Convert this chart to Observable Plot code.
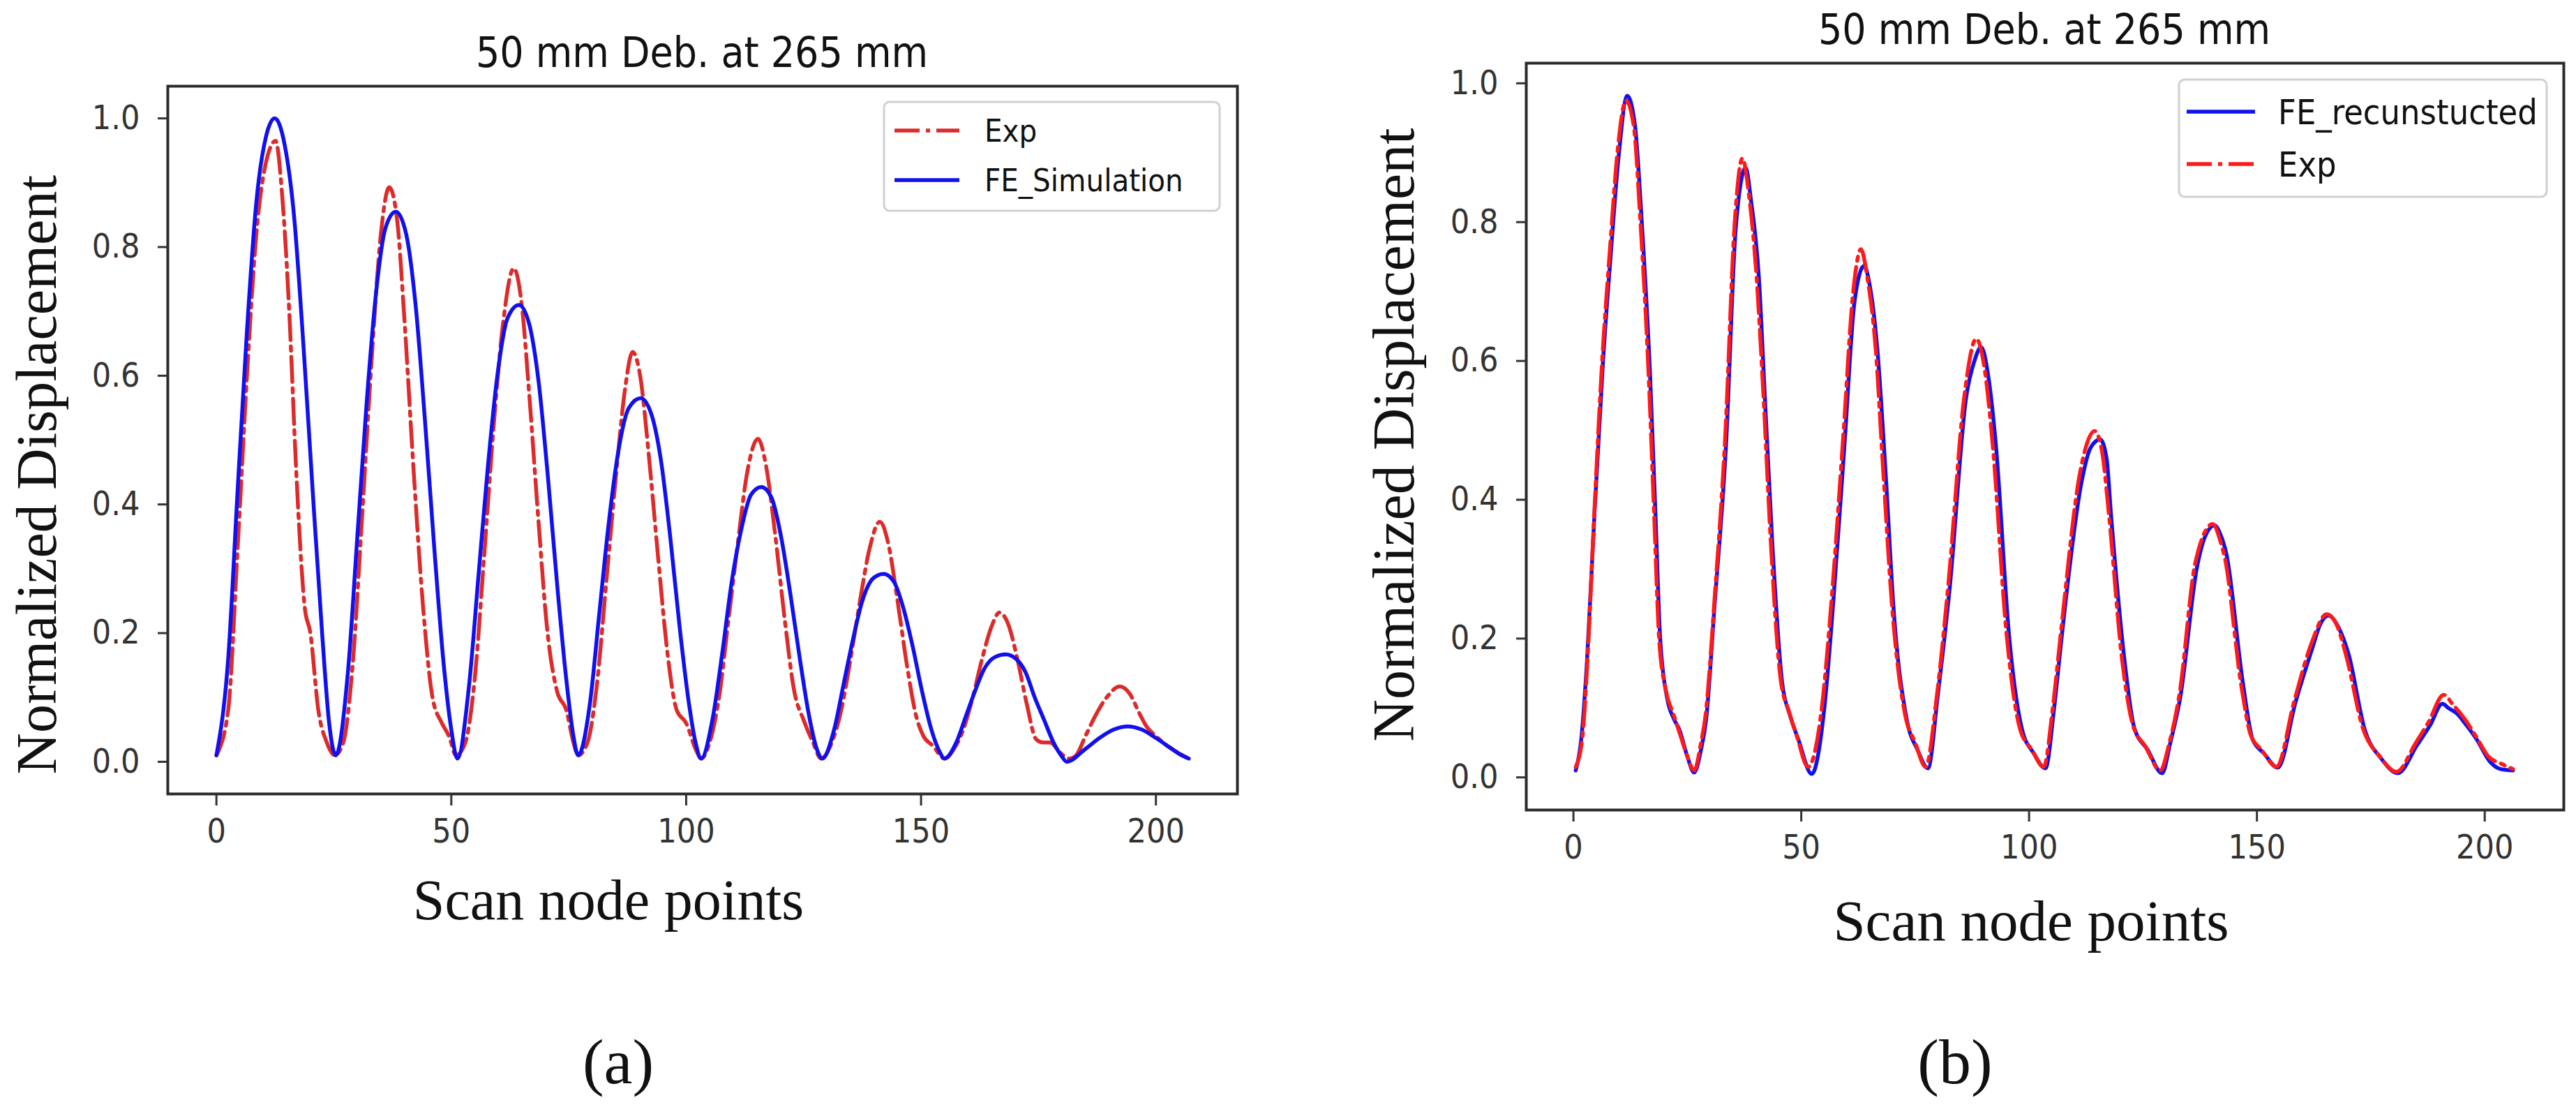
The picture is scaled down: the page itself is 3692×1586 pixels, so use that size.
<!DOCTYPE html>
<html>
<head>
<meta charset="utf-8">
<script src="https://cdn.jsdelivr.net/npm/d3@7"></script>
<script src="https://cdn.jsdelivr.net/npm/@observablehq/plot@0.6"></script>
<style>
  body { margin: 0; background: #fff; }
  #wrap { position: relative; width: 3692px; height: 1586px; background: #fff; overflow: hidden; }
  #wrap .panel { position: absolute; top: 0; }
  #overlay { position: absolute; left: 0; top: 0; pointer-events: none; }
</style>
</head>
<body>
<div id="wrap">
  <div class="panel" id="chartA" style="left:0"></div>
  <div class="panel" id="chartB" style="left:1846px"></div>
</div>
<script>
// tick values
const xTicks = [0, 50, 100, 150, 200];
const yTicks = [0, 0.2, 0.4, 0.6, 0.8, 1.0];

// (a) FE_Simulation, [scan node, normalized displacement]
const feSimulation = [
  [0, 0.01], [2.5, 0.16], [4.5, 0.42], [6.5, 0.67], [8.5, 0.87], [10.5, 0.97], [12.4, 1.0], [14.5, 0.96], [16.5, 0.85], [18.5, 0.65], [20.5, 0.42], [22.5, 0.2], [24, 0.06], [25.4, 0.01],
  [28, 0.14], [30, 0.35], [32, 0.56], [34, 0.73], [36, 0.83], [38.2, 0.855], [40.4, 0.82], [42.4, 0.71], [44.4, 0.53], [46.4, 0.33], [48.4, 0.15], [50, 0.05], [51.3, 0.005],
  [53.8, 0.12], [55.8, 0.29], [57.8, 0.46], [59.8, 0.6], [62, 0.69], [64.4, 0.71], [66.6, 0.68], [68.6, 0.59], [70.6, 0.44], [72.6, 0.27], [74.6, 0.12], [76, 0.04], [77, 0.01],
  [79.5, 0.09], [81.5, 0.23], [83.5, 0.37], [85.5, 0.48], [87.8, 0.55], [90.3, 0.565], [92.6, 0.54], [94.6, 0.47], [96.6, 0.35], [98.6, 0.21], [100.6, 0.09], [102, 0.03], [103.2, 0.005],
  [105.7, 0.07], [107.7, 0.17], [109.7, 0.28], [111.7, 0.36], [113.8, 0.415], [116, 0.427], [118.2, 0.41], [120.2, 0.35], [122.2, 0.26], [124.2, 0.16], [126.2, 0.07], [127.8, 0.02], [129, 0.005],
  [131.5, 0.05], [133.5, 0.12], [135.5, 0.19], [137.5, 0.25], [139.8, 0.285], [142, 0.292], [144.2, 0.28], [146.2, 0.24], [148.2, 0.18], [150.2, 0.11], [152.2, 0.05], [154, 0.015], [155, 0.005],
  [157.5, 0.03], [159.5, 0.07], [161.5, 0.11], [163.5, 0.145], [165.8, 0.163], [168, 0.167], [170.2, 0.16], [172.2, 0.14], [174.2, 0.1], [176.2, 0.065], [178.2, 0.03], [180, 0.008], [181, 0.0],
  [185, 0.02], [188, 0.037], [191, 0.05], [194, 0.055], [197, 0.05], [200, 0.037], [203, 0.022], [205, 0.012], [207, 0.005]
];

// (a) Exp
const expA = [
  [0, 0.01], [2.5, 0.08], [4.5, 0.33], [6.5, 0.6], [8.5, 0.82], [10.5, 0.93], [12.6, 0.965], [14, 0.88], [15.5, 0.7], [17, 0.45], [18.8, 0.24], [20, 0.2], [21.7, 0.08], [23.5, 0.03], [25.2, 0.01],
  [27, 0.03], [29, 0.15], [31, 0.38], [33, 0.62], [35, 0.82], [36.8, 0.893], [38.5, 0.84], [40, 0.69], [42, 0.45], [44, 0.24], [46, 0.1], [48, 0.06], [49.5, 0.04], [51, 0.01],
  [53, 0.03], [55, 0.13], [57, 0.32], [59, 0.52], [61, 0.68], [63.3, 0.767], [65, 0.71], [66.5, 0.58], [68.5, 0.38], [70.5, 0.2], [72.5, 0.11], [74.5, 0.08], [76, 0.03], [77, 0.01],
  [79, 0.03], [81, 0.12], [83, 0.28], [85, 0.44], [87, 0.58], [88.6, 0.637], [90.2, 0.6], [92, 0.48], [94, 0.32], [96, 0.17], [98, 0.08], [100, 0.06], [102, 0.02], [103.2, 0.005],
  [105, 0.03], [107, 0.1], [109, 0.22], [111, 0.34], [113, 0.45], [115.3, 0.502], [117, 0.46], [119, 0.35], [121, 0.22], [123, 0.11], [125, 0.065], [127, 0.03], [128.7, 0.005],
  [131, 0.03], [133, 0.08], [135, 0.16], [137, 0.25], [139, 0.33], [141.2, 0.373], [143, 0.34], [145, 0.25], [147, 0.15], [149, 0.07], [150.5, 0.04], [152.5, 0.025], [155, 0.005],
  [157, 0.02], [159, 0.05], [161, 0.1], [163, 0.16], [165, 0.21], [166.7, 0.232], [168.5, 0.215], [170.5, 0.16], [172.5, 0.09], [174.5, 0.035], [176, 0.03], [177.5, 0.03], [179.5, 0.015], [181.5, 0.005],
  [183, 0.01], [185, 0.04], [187, 0.07], [189.5, 0.1], [192.3, 0.117], [194.5, 0.105], [196.5, 0.075], [198, 0.055], [200, 0.04], [202, 0.027], [204.5, 0.015], [207, 0.005]
];

// (b) FE_recunstucted
const feReconstructed = [
  [0.5, 0.01], [1.7, 0.054], [3, 0.17], [4.6, 0.377], [6.5, 0.6], [8.2, 0.754], [10, 0.9], [11.8, 0.982], [13.5, 0.94], [15, 0.8], [16.8, 0.583], [18, 0.38], [19, 0.205], [20.5, 0.116], [22, 0.085], [23.3, 0.068], [25, 0.03], [26.5, 0.007],
  [28, 0.04], [29.1, 0.082], [31, 0.25], [33.5, 0.48], [35.6, 0.789], [37.8, 0.878], [39, 0.83], [40.7, 0.72], [42, 0.55], [43.6, 0.343], [45.8, 0.137], [47.5, 0.09], [49.4, 0.054], [52.3, 0.005],
  [55.1, 0.102], [57, 0.25], [59.5, 0.48], [61.7, 0.686], [63.8, 0.737], [65, 0.71], [66.7, 0.617], [68.5, 0.44], [70.3, 0.24], [73.2, 0.082], [75.5, 0.04], [77.8, 0.013],
  [80, 0.12], [82.6, 0.274], [86.2, 0.548], [88, 0.6], [89.5, 0.62], [91, 0.58], [92.7, 0.48], [95.6, 0.205], [98.5, 0.068], [101, 0.035], [103.6, 0.013],
  [105.5, 0.1], [107.2, 0.205], [111.5, 0.425], [113.5, 0.475], [115.6, 0.487], [117, 0.46], [118, 0.377], [120.9, 0.171], [123.1, 0.071], [126, 0.04], [129.2, 0.006],
  [131, 0.05], [133.2, 0.116], [136.8, 0.301], [138.5, 0.345], [140.7, 0.363], [142, 0.35], [143.3, 0.322], [146.9, 0.137], [149.1, 0.054], [151.5, 0.035], [154.6, 0.014],
  [158.5, 0.109], [162.1, 0.185], [164, 0.222], [165.7, 0.233], [168, 0.215], [170.1, 0.178], [173.7, 0.068], [177.3, 0.027], [180.9, 0.006],
  [185.2, 0.047], [188, 0.075], [190.7, 0.106], [192, 0.1], [193.9, 0.092], [196, 0.075], [198.3, 0.054], [201.1, 0.023], [203.5, 0.012], [206.2, 0.01]
];

// (b) Exp
const expB = [
  [0.5, 0.015], [2, 0.06], [3, 0.16], [4.5, 0.37], [6.3, 0.6], [8, 0.76], [9.8, 0.91], [11.5, 0.975], [13.2, 0.94], [14.7, 0.8], [16.5, 0.58], [17.7, 0.38], [18.8, 0.2], [20.3, 0.125], [22, 0.09], [23.5, 0.06], [25, 0.03], [26.5, 0.01],
  [28, 0.05], [29, 0.09], [31, 0.26], [33.3, 0.49], [35.4, 0.8], [37.1, 0.892], [38.5, 0.84], [40.2, 0.72], [41.7, 0.55], [43.3, 0.34], [45.5, 0.14], [47.3, 0.095], [49, 0.06], [51.5, 0.015],
  [54.5, 0.1], [56.7, 0.26], [59.2, 0.49], [61.4, 0.7], [63.1, 0.761], [64.5, 0.72], [66.3, 0.62], [68, 0.44], [70, 0.24], [72.8, 0.09], [75, 0.05], [77.3, 0.015],
  [79.8, 0.12], [82.3, 0.28], [85.8, 0.55], [88.4, 0.632], [90.2, 0.59], [92, 0.48], [95, 0.21], [98, 0.07], [100.6, 0.04], [103.2, 0.015],
  [105.2, 0.1], [107, 0.21], [111.2, 0.44], [114.4, 0.499], [116, 0.47], [117.5, 0.38], [120.4, 0.17], [122.8, 0.075], [125.5, 0.045], [128.8, 0.01],
  [130.8, 0.05], [133, 0.12], [136.5, 0.31], [140.3, 0.365], [142, 0.34], [143, 0.315], [146.5, 0.135], [148.7, 0.06], [151, 0.04], [154.3, 0.015],
  [158.2, 0.11], [161.8, 0.19], [165.3, 0.235], [167.5, 0.22], [169.6, 0.175], [173.3, 0.07], [177, 0.03], [180.6, 0.008],
  [184.9, 0.05], [187.7, 0.08], [191, 0.119], [193, 0.105], [195.5, 0.085], [198, 0.06], [200.8, 0.03], [203.5, 0.02], [206.2, 0.012]
];

const blue = '#1010f0';
const redA = '#dd2a2a';
const redB = '#ff1a1a';
const dash = '36,9,6,9';
const tickFont = '"DejaVu Sans Condensed", "DejaVu Sans", sans-serif';
const serif = '"Liberation Serif", "Times New Roman", serif';

function panel(opts) {
  return Plot.plot({
    width: 1846,
    height: 1586,
    marginLeft: opts.ml,
    marginRight: opts.mr,
    marginTop: opts.mt,
    marginBottom: opts.mb,
    style: {fontFamily: tickFont, fontSize: '48px', color: '#333', background: 'transparent'},
    x: {domain: [-10.35, 217.35]},
    y: {domain: opts.yDomain},
    marks: [
      ...opts.lines,
      Plot.frame({stroke: '#2a2a2a', strokeWidth: 4}),
      Plot.axisX({ticks: xTicks, tickFormat: d3.format('d'), tickSize: 17, tickPadding: 18, strokeWidth: 3, label: null}),
      Plot.axisY({ticks: yTicks, tickFormat: d3.format('.1f'), tickSize: 14, tickPadding: 26, strokeWidth: 3, label: null})
    ]
  });
}

const lineOpts = {x: d => d[0], y: d => d[1], curve: 'monotone-x', strokeWidth: 5.5};

const chartA = panel({
  ml: 240, mr: 73, mt: 123, mb: 449,
  yDomain: [-0.05, 1.05],
  lines: [
    Plot.line(expA, {...lineOpts, stroke: redA, strokeDasharray: dash}),
    Plot.line(feSimulation, {...lineOpts, stroke: blue})
  ]
});
d3.select('#chartA').append(() => chartA);

const chartB = panel({
  ml: 341, mr: 18, mt: 90, mb: 426,
  yDomain: [-0.047, 1.029],
  lines: [
    Plot.line(feReconstructed, {...lineOpts, stroke: blue}),
    Plot.line(expB, {...lineOpts, stroke: redB, strokeDasharray: dash})
  ]
});
d3.select('#chartB').append(() => chartB);

// titles, axis labels, legends
const svg = d3.select('#wrap').append('svg')
  .attr('id', 'overlay')
  .attr('width', 3692)
  .attr('height', 1586);

function label(x, y, text, size, family, rotate) {
  const t = svg.append('text')
    .attr('text-anchor', 'middle')
    .attr('font-family', family)
    .attr('font-size', size)
    .attr('fill', '#111')
    .text(text);
  if (rotate) t.attr('transform', `translate(${x},${y}) rotate(-90)`);
  else t.attr('x', x).attr('y', y);
}

label(1006, 96, '50 mm Deb. at 265 mm', 60, tickFont);
label(2930, 63, '50 mm Deb. at 265 mm', 60, tickFont);
label(80, 680, 'Normalized Displacement', 82, serif, true);
label(2026, 623, 'Normalized Displacement', 84, serif, true);
label(872, 1317, 'Scan node points', 82, serif);
label(2911, 1347, 'Scan node points', 83, serif);
label(886, 1552, '(a)', 92, serif);
label(2802, 1552, '(b)', 92, serif);

function legend(box, items, size) {
  svg.append('rect')
    .attr('x', box.x).attr('y', box.y)
    .attr('width', box.w).attr('height', box.h)
    .attr('rx', 8)
    .attr('fill', '#fff')
    .attr('stroke', '#d0d0d0')
    .attr('stroke-width', 3);
  items.forEach(it => {
    svg.append('line')
      .attr('x1', box.lx1).attr('x2', box.lx2)
      .attr('y1', it.y).attr('y2', it.y)
      .attr('stroke', it.color)
      .attr('stroke-width', 5.5)
      .attr('stroke-dasharray', it.dash || null);
    svg.append('text')
      .attr('x', box.tx).attr('y', it.y + size * 0.36)
      .attr('font-family', tickFont)
      .attr('font-size', size)
      .attr('fill', '#111')
      .text(it.name);
  });
}

legend({x: 1267, y: 146, w: 481, h: 156, lx1: 1282, lx2: 1375, tx: 1411}, [
  {name: 'Exp', color: redA, dash: dash, y: 187},
  {name: 'FE_Simulation', color: blue, y: 258}
], 45);

legend({x: 3123, y: 114, w: 527, h: 168, lx1: 3134, lx2: 3232, tx: 3265}, [
  {name: 'FE_recunstucted', color: blue, y: 160},
  {name: 'Exp', color: redB, dash: dash, y: 235}
], 50);
</script>
</body>
</html>
